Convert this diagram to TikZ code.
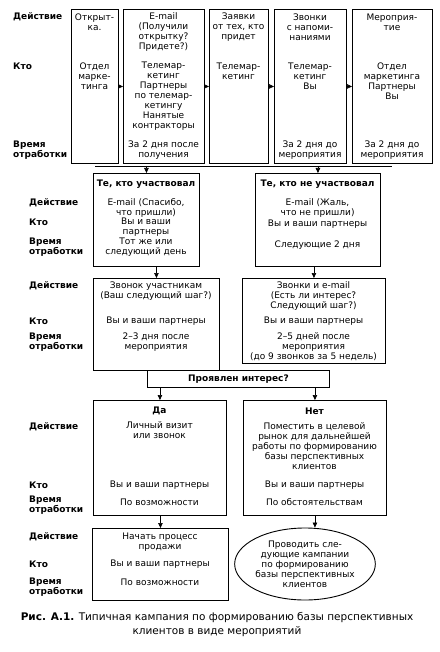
\documentclass[tikz,border=0pt]{standalone}
\usepackage{fontspec}
\setmainfont{DejaVu Sans}
\usetikzlibrary{arrows.meta, shapes.geometric}

\tikzset{
  box/.style={draw, line width=0.9pt, inner sep=0pt, anchor=north west},
  txt/.style={align=center, inner sep=0pt, font=\fontsize{9}{10}\selectfont},
  head/.style={txt, font=\fontsize{9}{10}\selectfont\bfseries},
  lbl/.style={align=left, anchor=west, inner sep=0pt, font=\fontsize{9}{10.5}\selectfont\bfseries},
  arr/.style={-{Triangle[length=5pt,width=4.5pt]}, line width=0.6pt},
}

\begin{document}
\begin{tikzpicture}[x=1pt, y=-1pt]
  \useasboundingbox (0,0) rectangle (439,652);

  % top row of steps
  \foreach \n/\x/\w in {b1/71/47, b2/123/81, b3/209/59, b4/274/72, b5/352/80}
    \node[box, minimum width=\w pt, minimum height=154pt] (\n) at (\x,9) {};
  \foreach \a/\b in {b1/b2, b2/b3, b3/b4, b4/b5}
    \draw[arr] (\a.east) -- (\b.west);

  \node[lbl] (actA) at (13,17) {Действие};
  \node[lbl] (whoA) at (13,66) {Кто};
  \node[lbl] (timeA) at (13,150) {Время\\отработки};

  \node[txt] (b1act) at (94.5,22) {Открыт-\\ка.};
  \node[txt] (b2act) at (163.5,32) {E-mail\\(Получили\\открытку?\\Придете?)};
  \node[txt] (b3act) at (238.5,27) {Заявки\\от тех, кто\\придет};
  \node[txt] (b4act) at (310,27) {Звонки\\с напоми-\\наниями};
  \node[txt] (b5act) at (392,22) {Мероприя-\\тие};

  \node[txt] (b1who) at (94.5,76) {Отдел\\марке-\\тинга};
  \node[txt] (b2who) at (163.5,96) {Телемар-\\кетинг\\Партнеры\\по телемар-\\кетингу\\Нанятые\\контракторы};
  \node[txt] (b3who) at (238.5,71) {Телемар-\\кетинг};
  \node[txt] (b4who) at (310,76) {Телемар-\\кетинг\\Вы};
  \node[txt] (b5who) at (392,81) {Отдел\\маркетинга\\Партнеры\\Вы};

  \node[txt] (b2time) at (163.5,150) {За 2 дня после\\получения};
  \node[txt] (b4time) at (310,150) {За 2 дня до\\мероприятия};
  \node[txt] (b5time) at (392,150) {За 2 дня до\\мероприятия};

  % split after the event
  \coordinate (busL) at (95,166);
  \coordinate (busR) at (392,166);
  \draw[line width=0.6pt] (busL) -- (busR);

  \node[box, minimum width=106pt, minimum height=93pt] (c1) at (93,173) {};
  \node[box, minimum width=125pt, minimum height=93pt] (c2) at (255,173) {};
  \draw[arr] (c1.north |- busL) -- (c1.north);
  \draw[arr] (c2.north |- busL) -- (c2.north);

  \node[lbl] (actB) at (29,203) {Действие};
  \node[lbl] (whoB) at (29,222) {Кто};
  \node[lbl] (timeB) at (29,247) {Время\\отработки};

  \node[head] (c1head) at (146,184) {Те, кто участвовал};
  \node[txt] (c1act) at (146,208) {E-mail (Спасибо,\\что пришли)};
  \node[txt] (c1who) at (146,227) {Вы и ваши\\партнеры};
  \node[txt] (c1time) at (146,247) {Тот же или\\следующий день};

  \node[head] (c2head) at (317.5,184) {Те, кто не участвовал};
  \node[txt] (c2act) at (317.5,208) {E-mail (Жаль,\\что не пришли)};
  \node[txt] (c2who) at (317.5,224) {Вы и ваши партнеры};
  \node[txt] (c2time) at (317.5,245) {Следующие 2 дня};

  % follow-up calls
  \node[box, minimum width=126pt, minimum height=92pt] (d1) at (93,278) {};
  \node[box, minimum width=143pt, minimum height=85pt] (d2) at (242,278) {};
  \draw[arr] (c1.south -| d1.north) -- (d1.north);
  \draw[arr] (c2.south -| d2.north) -- (d2.north);

  \node[lbl] (actC) at (29,286) {Действие};
  \node[lbl] (whoC) at (29,321) {Кто};
  \node[lbl] (timeC) at (29,342) {Время\\отработки};

  \node[txt] (d1act) at (156,291) {Звонок участникам\\(Ваш следующий шаг?)};
  \node[txt] (d1who) at (156,321) {Вы и ваши партнеры};
  \node[txt] (d1time) at (156,342) {2--3 дня после\\мероприятия};

  \node[txt] (d2act) at (313.5,296) {Звонки и e-mail\\(Есть ли интерес?\\Следующий шаг?)};
  \node[txt] (d2who) at (313.5,321) {Вы и ваши партнеры};
  \node[txt] (d2time) at (313.5,347) {2--5 дней после\\мероприятия\\(до 9 звонков за 5 недель)};

  \node[box, minimum width=182pt, minimum height=17pt, font=\fontsize{9}{10}\selectfont\bfseries] (ask) at (147,370) {Проявлен интерес?};

  % yes / no
  \node[box, minimum width=133pt, minimum height=115pt] (f1) at (93,400) {};
  \node[box, minimum width=143pt, minimum height=115pt] (f2) at (243,400) {};
  \draw[arr] (ask.south -| f1.north) -- (f1.north);
  \draw[arr] (ask.south -| f2.north) -- (f2.north);

  \node[lbl] (actD) at (29,427) {Действие};
  \node[lbl] (whoD) at (29,485) {Кто};
  \node[lbl] (timeD) at (29,505) {Время\\отработки};

  \node[head] (f1head) at (159.5,411) {Да};
  \node[txt] (f1act) at (159.5,430.5) {Личный визит\\или звонок};
  \node[txt] (f1who) at (159.5,485) {Вы и ваши партнеры};
  \node[txt] (f1time) at (159.5,502) {По возможности};

  \node[head] (f2head) at (314.5,411) {Нет};
  \node[txt] (f2act) at (314.5,446.5) {Поместить в целевой\\рынок для дальнейшей\\работы по формированию\\базы перспективных\\клиентов};
  \node[txt] (f2who) at (314.5,485) {Вы и ваши партнеры};
  \node[txt] (f2time) at (314.5,502) {По обстоятельствам};

  % last step
  \node[box, minimum width=136pt, minimum height=72pt] (g1) at (92,528) {};
  \node[draw, ellipse, line width=0.9pt, minimum width=124pt, minimum height=72pt, inner sep=0pt, txt] (g2) at (305,564)
    {Проводить сле-\\дующие кампании\\по формированию\\базы перспективных\\клиентов};
  \draw[arr] (f1.south -| g1.north) -- (g1.north);
  \draw[arr] (f2.south) -- (f2.south |- g2.north);

  \node[lbl] (actE) at (29,537) {Действие};
  \node[lbl] (whoE) at (29,564) {Кто};
  \node[lbl] (timeE) at (29,587) {Время\\отработки};

  \node[txt] (g1act) at (160,542) {Начать процесс\\продажи};
  \node[txt] (g1who) at (160,564) {Вы и ваши партнеры};
  \node[txt] (g1time) at (160,582) {По возможности};

  \node[align=center, inner sep=0pt, font=\fontsize{10.5}{14}\selectfont] (cap) at (217,625)
    {\textbf{Рис. А.1.} Типичная кампания по формированию базы перспективных\\клиентов в виде мероприятий};
\end{tikzpicture}
\end{document}
